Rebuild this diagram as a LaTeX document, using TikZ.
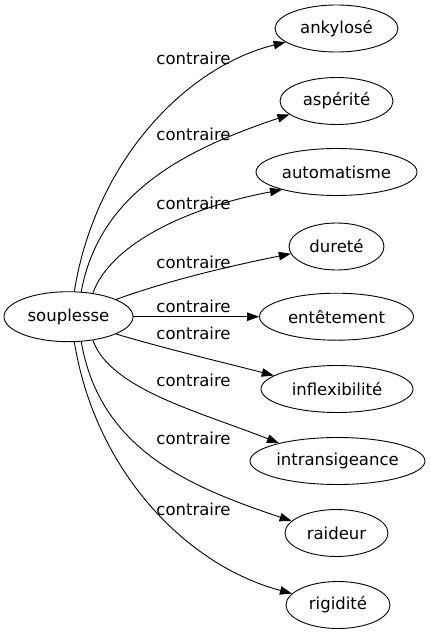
\documentclass[tikz,border=0pt]{standalone}
\usepackage{fontspec}
\setmainfont{DejaVu Sans}
\usetikzlibrary{shapes.geometric,arrows.meta}
\begin{document}
\begin{tikzpicture}[x=1pt,y=-1pt,
  word/.style={ellipse, draw, line width=0.9pt, inner sep=0pt, minimum height=47pt, font=\fontsize{16.5}{20}\selectfont},
  rel/.style={font=\fontsize{16.5}{20}\selectfont, inner sep=0pt},
  link/.style={line width=0.9pt, -{Triangle[length=12pt,width=8.5pt]}}]
\useasboundingbox (0,0) rectangle (431,635);
\node[word, minimum width=129pt, minimum height=50pt] (s) at (68.5,316.7) {souplesse};
\node[word, minimum width=123pt] (t1) at (336.5,28.5) {ankylosé};
\node[word, minimum width=113pt] (t2) at (336.5,101) {aspérité};
\node[word, minimum width=161pt] (t3) at (336.5,172) {automatisme};
\node[word, minimum width=95pt] (t4) at (336.5,246.5) {dureté};
\node[word, minimum width=154pt] (t5) at (336.5,316.7) {entêtement};
\node[word, minimum width=152pt] (t6) at (337,389) {inflexibilité};
\node[word, minimum width=175pt] (t7) at (337.5,461) {intransigeance};
\node[word, minimum width=103pt] (t8) at (336.5,533) {raideur};
\node[word, minimum width=104pt] (t9) at (338,605) {rigidité};
\draw[link] (s.77) .. controls (95,162) and (185,67) .. (t1.195);
\draw[link] (s.63) .. controls (100,190) and (190,148) .. (t2.196);
\draw[link] (s.44) .. controls (110,245) and (185,208) .. (t3.198);
\draw[link] (s.20) .. controls (170,280) and (230,266) .. (t4.189);
\draw[link] (s.0) -- (t5.180);
\draw[link] (s.-20) .. controls (170,350) and (230,364) .. (t6.168);
\draw[link] (s.-44) .. controls (110,389) and (200,412) .. (t7.163);
\draw[link] (s.-63) .. controls (100,450) and (190,487) .. (t8.165);
\draw[link] (s.-77) .. controls (95,470) and (185,565) .. (t9.166);
\node[rel] (l1) at (193.5,58) {contraire};
\node[rel] (l2) at (193.5,134) {contraire};
\node[rel] (l3) at (193.5,203) {contraire};
\node[rel] (l4) at (193.5,262) {contraire};
\node[rel] (l5) at (193.5,306) {contraire};
\node[rel] (l6) at (193.5,333) {contraire};
\node[rel] (l7) at (193.5,380) {contraire};
\node[rel] (l8) at (193.5,438) {contraire};
\node[rel] (l9) at (193.5,509) {contraire};
\end{tikzpicture}
\end{document}
